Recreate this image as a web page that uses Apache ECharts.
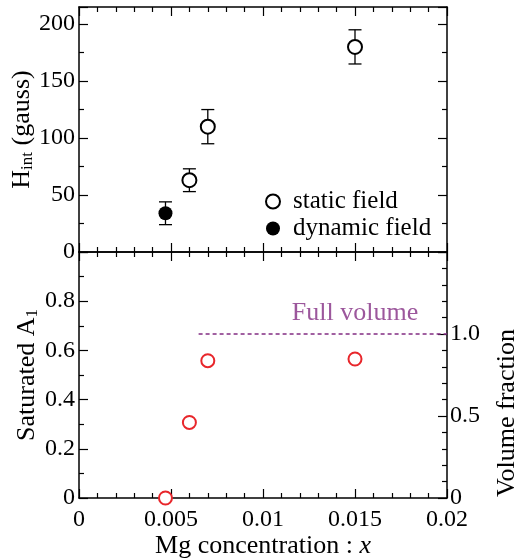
<!DOCTYPE html>
<html><head><meta charset="utf-8">
<script src="https://cdn.jsdelivr.net/npm/echarts@6/dist/echarts.min.js"></script>
<style>html,body{margin:0;padding:0;background:#fff}#c{width:518px;height:560px}</style>
</head><body><div id="c"></div>
<script>
// ---- data ----
const staticX = [0.006, 0.007, 0.015];
const staticY = [63, 110, 180];
const staticErr = [10, 15, 15];
const dynamicX = [0.0047];
const dynamicY = [34];
const dynamicErr = [10];
const a1X = [0.0047, 0.006, 0.007, 0.015];
const a1Y = [0, 0.307, 0.558, 0.565];
const fullVolumeX = [0.0065, 0.02];
const fullVolumeY = [1.0, 1.0];
const fullVolumeLabelPos = [0.015, 1.13];
const xTicks = [0, 0.005, 0.01, 0.015, 0.02];

const FONT = 'Liberation Serif';
const BLACK = '#000';
const PURPLE = '#832d83';
const RED = '#e8262b';

function pairs(xs, ys) { return xs.map((x, i) => [x, ys[i]]); }
function errData(xs, ys, es) { return xs.map((x, i) => [x, ys[i] - es[i], ys[i] + es[i]]); }

const errRender = function (params, api) {
  const x = api.value(0);
  const lo = api.coord([x, api.value(1)]);
  const hi = api.coord([x, api.value(2)]);
  const cap = 6.5;
  const st = { stroke: BLACK, lineWidth: 1.3 };
  return {
    type: 'group',
    children: [
      { type: 'line', shape: { x1: lo[0], y1: lo[1], x2: hi[0], y2: hi[1] }, style: st },
      { type: 'line', shape: { x1: lo[0] - cap, y1: lo[1], x2: lo[0] + cap, y2: lo[1] }, style: st },
      { type: 'line', shape: { x1: hi[0] - cap, y1: hi[1], x2: hi[0] + cap, y2: hi[1] }, style: st }
    ]
  };
};

const axisLine = { show: true, onZero: false, lineStyle: { color: BLACK, width: 1.5 } };
const tickStyle = { color: BLACK, width: 1.2 };
const lbl = { fontFamily: FONT, fontSize: 24, color: BLACK };
const xFmt = v => (Math.abs(v) < 1e-12 ? '0' : String(parseFloat(v.toFixed(4))));

function xAxis(gi, pos, showLabel) {
  return {
    type: 'value', gridIndex: gi, position: pos, min: 0, max: 0.02, interval: 0.005,
    axisLine, splitLine: { show: false },
    axisTick: { show: true, inside: true, length: 9, lineStyle: tickStyle },
    minorTick: { show: true, splitNumber: 5, length: 5, lineStyle: tickStyle },
    axisLabel: Object.assign({ show: showLabel, margin: 10, formatter: xFmt }, lbl)
  };
}

const option = {
  animation: false,
  backgroundColor: '#fff',
  grid: [
    { left: 79, right: 71, top: 7, height: 245, containLabel: false, outerBoundsMode: 'none' },
    { left: 79, right: 71, top: 252, height: 246, containLabel: false, outerBoundsMode: 'none' }
  ],
  xAxis: [
    xAxis(0, 'bottom', false),
    xAxis(0, 'top', false),
    Object.assign(xAxis(1, 'bottom', true), {
      name: '{t|Mg concentration : }{i|x}', nameLocation: 'middle', nameGap: 35,
      nameTextStyle: { rich: { t: { fontFamily: FONT, fontSize: 26, color: BLACK }, i: { fontFamily: FONT, fontSize: 26, fontStyle: 'italic', color: BLACK } } }
    }),
    xAxis(1, 'top', false)
  ],
  yAxis: [
    {
      type: 'value', gridIndex: 0, position: 'left', min: 0, max: 215, interval: 50,
      axisLine, splitLine: { show: false },
      axisTick: { show: true, inside: true, length: 9, lineStyle: tickStyle },
      minorTick: { show: true, splitNumber: 2, length: 5, lineStyle: tickStyle },
      axisLabel: Object.assign({ margin: 4, formatter: v => (v % 50 === 0 ? String(v) : '') }, lbl),
      name: '{t|H}{s|int}{t| (gauss)}', nameLocation: 'middle', nameGap: 43, nameRotate: 90, nameMoveOverlap: false,
      nameTextStyle: { rich: {
        t: { fontFamily: FONT, fontSize: 26, color: BLACK },
        s: { fontFamily: FONT, fontSize: 17, color: BLACK, verticalAlign: 'bottom', padding: [10, 0, 0, 0] }
      } }
    },
    {
      type: 'value', gridIndex: 0, position: 'right', min: 0, max: 215, interval: 50,
      axisLine, splitLine: { show: false },
      axisTick: { show: true, inside: true, length: 9, lineStyle: tickStyle },
      minorTick: { show: true, splitNumber: 2, length: 5, lineStyle: tickStyle },
      axisLabel: { show: false }
    },
    {
      type: 'value', gridIndex: 1, position: 'left', min: 0, max: 1.0, interval: 0.2,
      axisLine, splitLine: { show: false },
      axisTick: { show: true, inside: true, length: 9, lineStyle: tickStyle },
      minorTick: { show: true, splitNumber: 2, length: 5, lineStyle: tickStyle },
      axisLabel: Object.assign({ margin: 4, formatter: v => (v === 0 ? '0' : (v > 0.95 ? '' : v.toFixed(1))) }, lbl),
      name: '{t|Saturated A}{s|1}', nameLocation: 'middle', nameGap: 38, nameRotate: 90, nameMoveOverlap: false,
      nameTextStyle: { rich: {
        t: { fontFamily: FONT, fontSize: 26, color: BLACK },
        s: { fontFamily: FONT, fontSize: 17, color: BLACK, verticalAlign: 'bottom', padding: [10, 0, 0, 0] }
      } }
    },
    {
      type: 'value', gridIndex: 1, position: 'right', min: 0, max: 1.5, interval: 0.5,
      axisLine, splitLine: { show: false },
      axisTick: { show: true, inside: true, length: 9, lineStyle: tickStyle },
      minorTick: { show: true, splitNumber: 5, length: 5, lineStyle: tickStyle },
      axisLabel: Object.assign({ margin: 3, formatter: v => (v === 0 ? '0' : (v > 1.2 ? '' : v.toFixed(1))) }, lbl)
    }
  ],
  legend: {
    orient: 'vertical', left: 260, top: 184, itemGap: 2, itemWidth: 14, itemHeight: 14,
    textStyle: { fontFamily: FONT, fontSize: 25, color: BLACK, padding: [0, 0, 0, 8] },
    data: ['static field', 'dynamic field']
  },
  graphic: [
    {
      type: 'text', x: 507, y: 413, rotation: Math.PI / 2,
      style: { text: 'Volume fraction', fontFamily: FONT, fontSize: 26, fill: BLACK, align: 'center', verticalAlign: 'middle' }
    }
  ],
  series: [
    { type: 'custom', xAxisIndex: 0, yAxisIndex: 0, renderItem: errRender, data: errData(staticX, staticY, staticErr), z: 1 },
    { type: 'custom', xAxisIndex: 0, yAxisIndex: 0, renderItem: errRender, data: errData(dynamicX, dynamicY, dynamicErr), z: 1 },
    {
      name: 'static field', type: 'scatter', xAxisIndex: 0, yAxisIndex: 0, symbol: 'emptyCircle', symbolSize: 14,
      itemStyle: { color: BLACK, borderWidth: 1.3, opacity: 1 }, data: pairs(staticX, staticY), z: 3
    },
    {
      name: 'dynamic field', type: 'scatter', xAxisIndex: 0, yAxisIndex: 0, symbol: 'circle', symbolSize: 14,
      itemStyle: { color: BLACK, opacity: 1 }, data: pairs(dynamicX, dynamicY), z: 3
    },
    {
      type: 'scatter', xAxisIndex: 2, yAxisIndex: 2, symbol: 'emptyCircle', symbolSize: 13,
      itemStyle: { color: RED, borderWidth: 1.2, opacity: 1 }, data: pairs(a1X, a1Y), z: 3
    },
    {
      type: 'line', xAxisIndex: 2, yAxisIndex: 3, symbol: 'none', data: pairs(fullVolumeX, fullVolumeY),
      lineStyle: { color: PURPLE, width: 1.4, type: [4, 3] }, z: 2
    },
    {
      type: 'scatter', xAxisIndex: 2, yAxisIndex: 3, symbolSize: 0, data: [fullVolumeLabelPos], silent: true,
      label: { show: true, position: 'inside', formatter: 'Full volume', fontFamily: FONT, fontSize: 26, color: PURPLE }
    }
  ]
};
const chart = echarts.init(document.getElementById('c'), null, { renderer: 'canvas' });
chart.setOption(option);
</script></body></html>
